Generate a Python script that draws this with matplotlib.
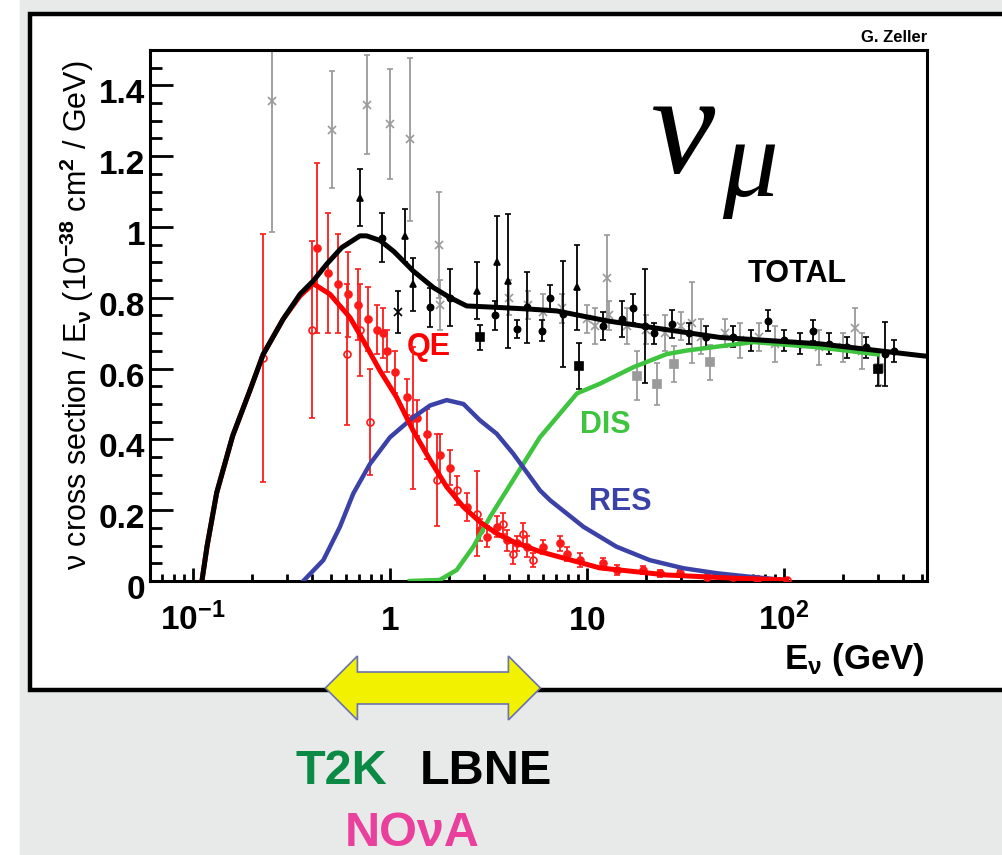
import matplotlib

matplotlib.use("Agg")
import matplotlib.pyplot as plt
from matplotlib.patches import Polygon, Rectangle
from matplotlib.ticker import FixedFormatter, FixedLocator, LogLocator, MultipleLocator, NullFormatter
import matplotlib.transforms as mtransforms
import numpy as np


W, H = 1002, 855

# model curves: E (GeV) vs sigma/E (1e-38 cm^2 / GeV)
TOTAL_E = [0.111, 0.118, 0.132, 0.159, 0.195, 0.227, 0.287, 0.349, 0.408, 0.477, 0.569, 0.704, 0.761,
           0.89, 1.05, 1.31, 1.66, 2.01, 2.45, 3.48, 5.13, 7.0, 12.6, 18.6, 47.3, 152, 490, 530]
TOTAL_XS = [0.0, 0.10, 0.25, 0.41, 0.54, 0.64, 0.74, 0.810, 0.848, 0.895, 0.942, 0.975, 0.975,
            0.962, 0.93, 0.876, 0.829, 0.801, 0.777, 0.773, 0.768, 0.763, 0.735, 0.721, 0.688, 0.670, 0.637, 0.635]

QE_E = [0.111, 0.118, 0.132, 0.159, 0.195, 0.227, 0.287, 0.349, 0.408, 0.496, 0.627, 0.732, 0.89, 1.08,
        1.31, 1.6, 1.94, 2.36, 2.86, 3.48, 4.23, 5.77, 11.6, 25.4, 55, 103]
QE_XS = [0.0, 0.10, 0.25, 0.41, 0.54, 0.64, 0.74, 0.805, 0.840, 0.810, 0.744, 0.679, 0.594, 0.519,
         0.425, 0.341, 0.266, 0.209, 0.167, 0.134, 0.111, 0.083, 0.037, 0.017, 0.008, 0.003]

RES_E = [0.363, 0.459, 0.557, 0.651, 0.792, 1.0, 1.31, 1.60, 1.94, 2.36, 2.86, 3.48, 4.23, 5.77, 6.5,
         9.6, 14.1, 20.8, 30.9, 45.5, 67, 99.6]
RES_XS = [0.0, 0.059, 0.153, 0.247, 0.331, 0.406, 0.462, 0.496, 0.511, 0.500, 0.454, 0.416, 0.359, 0.256,
          0.228, 0.153, 0.097, 0.059, 0.036, 0.022, 0.012, 0.003]

DIS_E = [1.26, 1.79, 2.18, 2.65, 3.22, 3.91, 4.75, 5.77, 8.9, 11.6, 17.2, 25.4, 32, 70, 150, 300]
DIS_XS = [0.0, 0.003, 0.031, 0.097, 0.181, 0.256, 0.331, 0.406, 0.53, 0.557, 0.604, 0.641, 0.651, 0.675,
          0.66, 0.64]

# measurements: (E, value, error)
RED_FILLED = [(0.426, 0.94, 0.24), (0.485, 0.87, 0.17), (0.545, 0.84, 0.14), (0.612, 0.81, 0.12),
              (0.688, 0.78, 0.10), (0.774, 0.74, 0.09), (0.859, 0.71, 0.07), (0.921, 0.70, 0.07),
              (0.966, 0.65, 0.06), (1.06, 0.59, 0.06), (1.22, 0.52, 0.05), (1.37, 0.46, 0.05),
              (1.54, 0.415, 0.07), (1.79, 0.355, 0.06), (2.02, 0.32, 0.05), (2.46, 0.21, 0.04),
              (2.86, 0.144, 0.03), (3.11, 0.125, 0.03), (3.49, 0.153, 0.03), (3.93, 0.115, 0.03),
              (4.41, 0.106, 0.02), (4.96, 0.097, 0.03), (5.98, 0.097, 0.02), (7.3, 0.106, 0.02),
              (7.91, 0.077, 0.02), (9.2, 0.059, 0.02), (12.1, 0.050, 0.015), (14.2, 0.031, 0.015),
              (19.2, 0.031, 0.01), (23.5, 0.022, 0.01), (29.7, 0.022, 0.01), (40.6, 0.012, 0.01),
              (55.1, 0.012, 0.008), (73.0, 0.007, 0.008)]
RED_OPEN = [(0.227, 0.63, 0.35), (0.402, 0.71, 0.25), (0.605, 0.64, 0.20), (0.704, 0.71, 0.13),
            (0.792, 0.45, 0.15), (1.31, 0.46, 0.20), (1.73, 0.285, 0.13), (2.19, 0.256, 0.04),
            (2.77, 0.19, 0.12), (3.75, 0.162, 0.03), (4.21, 0.077, 0.03), (4.73, 0.134, 0.03),
            (5.32, 0.059, 0.02), (103.5, 0.003, 0.005)]

BLACK_TRI = [(0.704, 1.083, 0.08), (1.19, 0.975, 0.075), (1.31, 0.838, 0.075), (2.77, 0.82, 0.08),
             (3.49, 0.90, 0.13), (3.97, 0.848, 0.19), (8.9, 0.83, 0.12)]
BLACK_DOT = [(0.91, 0.97, 0.07), (1.6, 0.773, 0.055), (2.02, 0.80, 0.08), (3.40, 0.75, 0.04),
             (4.41, 0.711, 0.025), (4.96, 0.773, 0.10), (5.91, 0.707, 0.03), (6.49, 0.80, 0.035),
             (7.55, 0.754, 0.15), (12, 0.72, 0.04), (15, 0.74, 0.05), (17.1, 0.77, 0.04),
             (19.7, 0.72, 0.16), (22, 0.70, 0.03), (27, 0.726, 0.04), (33, 0.70, 0.03), (40, 0.69, 0.03),
             (55, 0.69, 0.03), (68, 0.68, 0.03), (83, 0.735, 0.03), (100, 0.68, 0.03), (120, 0.67, 0.03),
             (140, 0.707, 0.03), (170, 0.67, 0.03), (210, 0.66, 0.03), (260, 0.66, 0.03),
             (326, 0.641, 0.09), (360, 0.65, 0.03)]
BLACK_SQ = [(2.86, 0.688, 0.035), (9.1, 0.608, 0.065), (300, 0.60, 0.05)]
BLACK_CROSS = [(1.10, 0.76, 0.06)]

GRAY_CROSS = [(0.252, 1.355, 0.37), (0.508, 1.275, 0.165), (0.764, 1.345, 0.14), (1.0, 1.29, 0.155),
              (1.26, 1.248, 0.23), (1.77, 0.95, 0.15), (1.79, 0.78, 0.07), (4.0, 0.80, 0.05),
              (5.0, 0.78, 0.04), (6.0, 0.76, 0.05), (7.5, 0.77, 0.04), (10, 0.74, 0.04), (11, 0.72, 0.05),
              (12.6, 0.857, 0.12), (13, 0.75, 0.04), (16, 0.72, 0.05), (20, 0.71, 0.04), (25, 0.70, 0.05),
              (30, 0.72, 0.04), (34, 0.73, 0.115), (38, 0.69, 0.05), (50, 0.70, 0.04), (60, 0.68, 0.05),
              (75, 0.69, 0.04), (90, 0.67, 0.05), (150, 0.66, 0.05), (200, 0.66, 0.04),
              (228, 0.716, 0.055), (250, 0.65, 0.05)]
GRAY_SQ = [(17.9, 0.58, 0.07), (22.6, 0.557, 0.06), (27.5, 0.613, 0.05), (42, 0.618, 0.05),
           (302, 0.603, 0.05)]

XTICKS = [0.1, 1, 10, 100]
XTICK_LABELS = ["$10^{-1}$", "$1$", "$10$", "$10^{2}$"]
YTICKS = [0, 0.2, 0.4, 0.6, 0.8, 1.0, 1.2, 1.4]
YTICK_LABELS = ["0", "0.2", "0.4", "0.6", "0.8", "1", "1.2", "1.4"]

ARROW_GEV = (0.47, 5.8)

RED = "#ff1a1a"
BLUE = "#3a42a8"
GREEN = "#3ec43e"
GRAY = "#9a9a9a"
BG_GRAY = "#e8eaea"


def fx(px):
    return px / W


def fy(py):
    return 1 - py / H


def draw_points(ax, pts, color, marker, mfc, ms, z=3):
    e = [p[0] for p in pts]
    v = [p[1] for p in pts]
    err = [p[2] for p in pts]
    ax.errorbar(e, v, yerr=err, fmt=marker, color=color, mfc=mfc, mec=color, ms=ms, mew=1.2,
                elinewidth=1.3, capsize=2.5, capthick=1.3, zorder=z)


def main():
    plt.rcParams.update({
        "font.family": "Liberation Sans",
        "font.weight": "bold",
        "mathtext.fontset": "custom",
        "mathtext.rm": "Liberation Sans:bold",
        "mathtext.bf": "Liberation Sans:bold",
        "mathtext.it": "Liberation Sans:bold:italic",
        "mathtext.sf": "Liberation Sans:bold",
        "mathtext.default": "rm",
    })
    fig = plt.figure(figsize=(W / 100, H / 100), dpi=100)

    # page background and outer frame (kept beneath the axes)
    fig.patches.append(Rectangle((fx(20), 0), 1, 1, transform=fig.transFigure, color=BG_GRAY, zorder=-3))
    fig.patches.append(Rectangle((fx(30), fy(690)), 1.0, fy(14) - fy(690), transform=fig.transFigure,
                                 facecolor="white", edgecolor="black", lw=3.2, zorder=-2))

    ax = fig.add_axes([fx(150), fy(581), fx(927) - fx(150), fy(50) - fy(581)])
    ax.set_xscale("log")
    ax.set_xlim(0.0605, 532)
    ax.set_ylim(0, 1.5)

    draw_points(ax, GRAY_CROSS, GRAY, "x", "none", 6, z=2)
    draw_points(ax, GRAY_SQ, GRAY, "s", GRAY, 6, z=2)
    draw_points(ax, BLACK_DOT, "black", "o", "black", 4.5, z=3)
    draw_points(ax, BLACK_TRI, "black", "^", "black", 5, z=3)
    draw_points(ax, BLACK_SQ, "black", "s", "black", 6, z=3)
    draw_points(ax, BLACK_CROSS, "black", "x", "none", 6, z=3)
    draw_points(ax, RED_OPEN, RED, "o", "none", 5, z=4)
    draw_points(ax, RED_FILLED, RED, "o", RED, 5, z=4)

    ax.plot(DIS_E, DIS_XS, color=GREEN, lw=3.2, zorder=5)
    ax.plot(RES_E, RES_XS, color=BLUE, lw=3.2, zorder=5)
    ax.plot(QE_E, QE_XS, color="#ff0000", lw=3.6, zorder=6)
    ax.plot(TOTAL_E, TOTAL_XS, color="black", lw=3.6, zorder=7)

    ax.xaxis.set_major_locator(FixedLocator(XTICKS))
    ax.xaxis.set_major_formatter(FixedFormatter(XTICK_LABELS))
    ax.xaxis.set_minor_locator(LogLocator(base=10, subs=np.arange(2, 10)))
    ax.xaxis.set_minor_formatter(NullFormatter())
    ax.yaxis.set_major_locator(FixedLocator(YTICKS))
    ax.yaxis.set_major_formatter(FixedFormatter(YTICK_LABELS))
    ax.yaxis.set_minor_locator(MultipleLocator(0.05))

    ax.tick_params(which="both", direction="in", top=False, right=False, width=2, labelsize=24)
    ax.xaxis.set_tick_params(which="major", length=9.5, pad=35)
    ax.xaxis.set_tick_params(which="minor", length=5)
    ax.yaxis.set_tick_params(which="major", length=16.5, pad=3.5)
    ax.yaxis.set_tick_params(which="minor", length=8.5)
    for lab in ax.get_xticklabels():
        lab.set_verticalalignment("baseline")
    shift = mtransforms.ScaledTranslation(0, -6 / 100, fig.dpi_scale_trans)
    for lab in ax.get_yticklabels():
        lab.set_transform(lab.get_transform() + shift)
    for sp in ax.spines.values():
        sp.set_linewidth(2.2)

    ax.set_ylabel("ν cross section / E$_{ν}$ (10$^{-38}$ cm$^{2}$ / GeV)", fontsize=22, labelpad=2)

    ax.text((748 - 150) / 777, (581 - 282) / 531, "TOTAL", transform=ax.transAxes, fontsize=22,
            color="black", va="baseline")
    ax.text((407 - 150) / 777, (581 - 355) / 531, "QE", transform=ax.transAxes, fontsize=22,
            color="#ff0000", va="baseline")
    ax.text((580 - 150) / 777, (581 - 433) / 531, "DIS", transform=ax.transAxes, fontsize=22,
            color=GREEN, va="baseline")
    ax.text((589 - 150) / 777, (581 - 510) / 531, "RES", transform=ax.transAxes, fontsize=22,
            color=BLUE, va="baseline")

    fig.text(fx(650), fy(173), "ν", fontsize=104, family="Liberation Serif", style="italic",
             weight="normal", va="baseline")
    fig.text(fx(722), fy(196), "μ", fontsize=80, family="Liberation Serif", style="italic",
             weight="normal", va="baseline")

    fig.text(fx(927), fy(42), "G. Zeller", fontsize=12, ha="right", va="baseline")
    fig.text(fx(925), fy(669), "E$_{ν}$ (GeV)", fontsize=25, ha="right", va="baseline")

    # energy-range arrow placed at the data positions of ARROW_GEV
    fig.canvas.draw()
    x0 = ax.transData.transform((ARROW_GEV[0], 1))[0]
    x1 = ax.transData.transform((ARROW_GEV[1], 1))[0]
    yc = fy(688) * H
    head, half_head, half_shaft = 32, 32, 16
    verts = [(x0, yc), (x0 + head, yc + half_head), (x0 + head, yc + half_shaft), (x1 - head, yc + half_shaft),
             (x1 - head, yc + half_head), (x1, yc), (x1 - head, yc - half_head), (x1 - head, yc - half_shaft),
             (x0 + head, yc - half_shaft), (x0 + head, yc - half_head)]
    verts = [(vx / W, vy / H) for vx, vy in verts]
    fig.patches.append(Polygon(verts, closed=True, transform=fig.transFigure, facecolor="#f2f200",
                               edgecolor="#6a72b0", lw=1.2, zorder=3))

    fig.text(fx(295), fy(784), "T2K", fontsize=35, color="#0b8a45", va="baseline")
    fig.text(fx(420), fy(784), "LBNE", fontsize=35, color="black", va="baseline")
    fig.text(fx(345), fy(846), "NOνA", fontsize=35, color="#e8409c", va="baseline")

    fig.savefig("out.png", dpi=100)
    plt.close(fig)


if __name__ == "__main__":
    main()
